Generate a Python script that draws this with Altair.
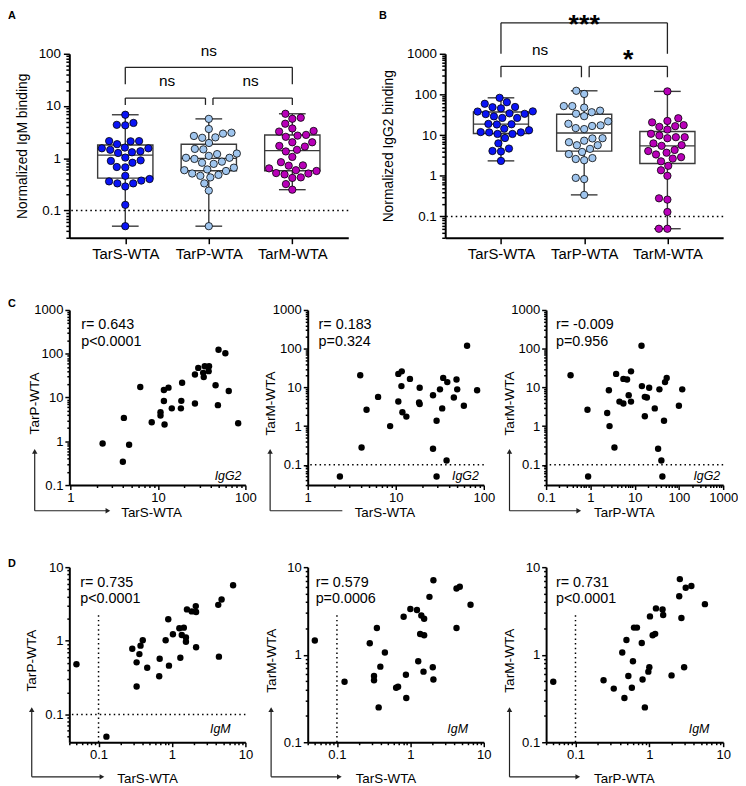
import numpy as np
import pandas as pd
import altair as alt

FONT = "Liberation Sans"

groups = ["TarS-WTA", "TarP-WTA", "TarM-WTA"]
group_colors = ["#0a14f5", "#9fc5ee", "#b800b8"]

# ---------------- IgM (panel D pairs; also panel A) ----------------
d1_tars = [0.050, 0.128, 0.288, 0.40, 0.373, 0.36, 0.33, 0.46, 0.33, 0.67, 0.68, 0.91, 0.82, 0.89, 1.03,
           1.26, 1.45, 1.36, 1.55, 1.55, 1.30, 1.60, 1.86, 2.11, 2.13, 2.13, 4.27, 4.74, 6.8, 4.36]
d1_tarp = [0.48, 0.05, 0.78, 1.02, 0.86, 0.66, 0.51, 0.43, 0.24, 0.33, 0.57, 0.46, 1.02, 1.96, 1.23,
           1.48, 1.51, 1.20, 1.11, 0.97, 0.59, 2.67, 2.51, 2.96, 2.46, 0.82, 3.08, 3.63, 5.67, 0.61]
d2_tars = [0.05, 0.127, 0.28, 0.35, 0.32, 0.32, 0.39, 0.45, 0.37, 0.64, 0.68, 0.87, 0.88, 0.81, 1.0,
           1.23, 1.41, 1.54, 1.36, 1.54, 1.28, 1.51, 2.02, 2.06, 1.82, 2.06, 4.25, 4.25, 4.71, 6.6]
d2_tarm = [1.45, 0.49, 1.35, 2.02, 0.57, 0.51, 0.73, 1.06, 0.25, 0.42, 0.43, 0.59, 0.32, 2.71, 3.33,
           3.24, 2.80, 2.57, 1.72, 1.67, 0.84, 0.64, 0.72, 0.52, 4.58, 7.1, 2.02, 5.7, 5.97, 3.72]
d3_tarp = [0.05, 0.24, 0.33, 0.46, 0.52, 0.58, 0.43, 0.49, 0.60, 0.62, 0.68, 0.79, 0.81, 0.87, 0.97,
           1.0, 1.02, 1.11, 1.20, 1.23, 1.51, 1.54, 2.0, 2.54, 2.59, 2.72, 2.96, 3.11, 3.71, 5.66]
d3_tarm = [0.49, 0.51, 0.41, 0.32, 0.57, 0.42, 1.06, 1.47, 0.84, 2.04, 2.04, 1.36, 0.52, 0.25, 0.64,
           0.72, 2.74, 1.67, 1.73, 3.38, 3.29, 2.84, 0.58, 4.66, 7.3, 2.62, 0.72, 5.83, 6.1, 3.78]

# ---------------- IgG2 (panel C pairs; also panel B) ----------------
c1_tars = [2.33, 3.97, 4.68, 4.08, 6.28, 8.49, 10.7, 10.7, 11.9, 11.7, 11.7, 13.2, 14.4, 18.3, 18.5,
           18.9, 26.5, 26.5, 28.9, 32.9, 33.4, 34.3, 38.0, 38.4, 45.6, 49.3, 48.5, 59.0, 64.5, 82.7]
c1_tarp = [0.89, 0.34, 0.83, 3.42, 17.4, 2.73, 3.86, 4.6, 2.42, 8.3, 14.9, 16.8, 5.65, 5.65, 8.4,
           21.8, 7.3, 33.6, 47.5, 36.6, 29.3, 51.8, 40.0, 51.8, 19.0, 123, 6.7, 103, 14.1, 2.59]
c2_tars = [2.32, 3.95, 4.09, 4.66, 6.3, 8.63, 10.7, 10.7, 11.7, 11.6, 11.9, 13.2, 14.5, 18.7, 18.4, 18.7,
           26.5, 26.5, 29.1, 29.1, 31.8, 33.7, 34.6, 37.8, 38.5, 45.7, 49.0, 49.9, 59.4, 64.6, 84.0]
c2_tarm = [0.05, 20.6, 0.28, 2.65, 5.68, 1.0, 4.32, 22.3, 26.0, 10.8, 2.27, 1.76, 16.6, 9.8, 4.07, 3.7,
           6.26, 0.26, 1.37, 0.05, 8.9, 2.87, 17.6, 0.129, 13.7, 5.46, 16.0, 8.9, 3.35, 119, 8.4]
c3_tarp = [0.357, 0.89, 0.86, 2.4, 2.62, 2.71, 3.5, 3.82, 4.54, 5.57, 5.57, 6.74, 7.34, 8.28, 8.28, 14.3,
           14.6, 17.0, 17.0, 18.9, 21.3, 28.5, 33.9, 36.3, 40.2, 42.4, 46.1, 48.6, 53.0, 100, 119]
c3_tarm = [20.6, 0.05, 2.65, 2.18, 8.4, 1.0, 0.28, 22.3, 4.3, 3.85, 16.6, 16.0, 6.26, 4.3, 26.0, 119,
           10.8, 1.8, 5.7, 5.46, 9.8, 2.87, 0.26, 8.9, 0.129, 0.05, 1.37, 13.7, 17.6, 3.35, 8.9]

c_stats = [["r= 0.643", "p<0.0001"], ["r= 0.183", "p=0.324"], ["r= -0.009", "p=0.956"]]
d_stats = [["r= 0.735", "p<0.0001"], ["r= 0.579", "p=0.0006"], ["r= 0.731", "p<0.0001"]]

# significance annotations (box panels): bracket levels in data units
a_brackets = {"top": (1, 3, 26.2, 55.0), "left": (1, 1.96, 10.5, 14.2), "right": (2.05, 3, 10.5, 14.2)}
a_labels = [("ns", 2, 113.5), ("ns", 1.5, 29.4), ("ns", 2.5, 29.4)]
b_brackets = {"top": (1, 3, 1000, 5763), "left": (1, 1.967, 265, 491), "right": (2.06, 3, 265, 491)}
b_labels = [("ns", 1.47, 1244)]
b_stars_top = [("***", 2, 10490)]
b_stars = [("*", 2.53, 454)]

MAJOR = "abs(log(datum.value)/LN10 - round(log(datum.value)/LN10)) < 0.001"
LOG_LABEL = "(" + MAJOR + ") ? format(datum.value, '~g') : ''"
CAT_EXPR = "[" + ",".join(["''"] + ["'%s'" % g for g in groups]) + "][datum.value]"
XDOM = [0.33, 3.67]
ONE = pd.DataFrame({"a": [0]})
LINE = "#222222"


def tick_size(major, minor):
    return {"condition": {"test": MAJOR, "value": major}, "value": minor}


def log_ticks(lo, hi):
    out = []
    for e in range(-3, 5):
        for k in range(1, 10):
            v = float("%de%d" % (k, e))
            if lo * 0.9999 <= v <= hi * 1.0001:
                out.append(v)
    return out


def swarm(vals, dec_px, diam):
    ys = np.log10(np.asarray(vals, dtype=float)) * dec_px
    order = np.argsort(ys)
    placed = []
    xs = np.zeros(len(vals))
    for i in order:
        y = ys[i]
        cands = [0.0]
        for (px, py) in placed:
            dy = abs(py - y)
            if dy < diam:
                dx = np.sqrt(diam ** 2 - dy ** 2)
                cands += [px + dx, px - dx]
        cands.sort(key=lambda c: (abs(c), c))
        for c in cands:
            if all((c - px) ** 2 + (y - py) ** 2 >= diam ** 2 - 1e-6 for px, py in placed):
                xs[i] = c
                break
        placed.append((xs[i], y))
    return xs


def letter_layer(txt, x, y):
    return alt.Chart(ONE).mark_text(text=txt, font=FONT, fontSize=11, fontWeight="bold",
                                    align="left", baseline="top", color="black").encode(
        x=alt.value(x), y=alt.value(y))


def extent_layer(top, bottom):
    # invisible vertical guide fixing the vertical extent of a row for layout
    return alt.Chart(ONE).mark_rule(opacity=0, strokeWidth=1).encode(
        x=alt.value(0), y=alt.value(top), y2=alt.value(bottom))


def box_panel(vals_list, ydom, w, h, ytitle, ytitle_x, brackets, ns_labels, stars, stars_top,
              letter, letter_x, letter_y, extent=None):
    dec_px = h / (np.log10(ydom[1]) - np.log10(ydom[0]))
    step = w / (XDOM[1] - XDOM[0])
    rows = []
    for gi, (g, vals) in enumerate(zip(groups, vals_list), start=1):
        off = swarm(vals, dec_px, 8.6) / step
        for v, o in zip(vals, off):
            rows.append({"grp": g, "idx": gi, "value": v, "xs": gi + o})
    df = pd.DataFrame(rows)
    xs = alt.Scale(type="linear", domain=XDOM, nice=False, zero=False)
    ys = alt.Scale(type="log", domain=ydom, nice=False)
    xaxis = alt.Axis(values=[1, 2, 3], labelExpr=CAT_EXPR, title=None, tickSize=6, labelFontSize=15,
                     labelPadding=3, labelFlush=False, labelOverlap=False)
    yaxis = alt.Axis(values=log_ticks(*ydom), labelExpr=LOG_LABEL, tickSize=tick_size(6, 3.5),
                     labelOverlap=False, labelFlush=False, labelFontSize=13.5, labelPadding=3,
                     title=ytitle, titleFontSize=14, titleX=ytitle_x, titleY=h / 2, titleAngle=270,
                     titleAlign="center", titleBaseline="middle")

    def X(f):
        return alt.X(f, type="quantitative", scale=xs, axis=xaxis)

    def Y(f):
        return alt.Y(f, type="quantitative", scale=ys, axis=yaxis)

    base = alt.Chart(df)
    agg = base.transform_aggregate(
        q1="q1(value)", q3="q3(value)", med="median(value)", lo="min(value)", hi="max(value)",
        groupby=["idx"]).transform_calculate(
        xl="datum.idx - 0.331", xr="datum.idx + 0.331", cl="datum.idx - 0.16", cr="datum.idx + 0.16")
    BC = "#3a3a3a"
    sw = 1.4
    layers = [
        agg.mark_rect(fill="transparent", stroke=BC, strokeWidth=sw).encode(
            x=X("xl"), x2=alt.X2("xr"), y=Y("q1"), y2=alt.Y2("q3")),
        agg.mark_rule(color=BC, strokeWidth=sw).encode(x=X("xl"), x2=alt.X2("xr"), y=Y("med")),
        agg.mark_rule(color=BC, strokeWidth=sw).encode(x=X("idx"), y=Y("lo"), y2=alt.Y2("q1")),
        agg.mark_rule(color=BC, strokeWidth=sw).encode(x=X("idx"), y=Y("q3"), y2=alt.Y2("hi")),
        agg.mark_rule(color=BC, strokeWidth=sw).encode(x=X("cl"), x2=alt.X2("cr"), y=Y("lo")),
        agg.mark_rule(color=BC, strokeWidth=sw).encode(x=X("cl"), x2=alt.X2("cr"), y=Y("hi")),
        alt.Chart(pd.DataFrame({"v": [0.1]})).mark_rule(color="black", strokeWidth=1.6,
                                                         strokeDash=[1.6, 3.2]).encode(y=Y("v")),
        base.mark_point(filled=True, shape="circle", size=55, stroke="black", strokeWidth=0.8,
                        opacity=1).encode(
            x=X("xs"), y=Y("value"),
            fill=alt.Fill("grp:N", scale=alt.Scale(domain=groups, range=group_colors), legend=None)),
    ]
    segs = []
    for (xa, xb, ylo, yhi) in brackets.values():
        segs += [(xa, xa, ylo, yhi), (xa, xb, yhi, yhi), (xb, xb, ylo, yhi)]
    sdf = pd.DataFrame(segs, columns=["x", "x2", "y", "y2"])
    layers.append(alt.Chart(sdf).mark_rule(color=LINE, strokeWidth=1.3).encode(
        x=X("x"), x2=alt.X2("x2"), y=Y("y"), y2=alt.Y2("y2")))
    ndf = pd.DataFrame(ns_labels, columns=["t", "x", "y"])
    layers.append(alt.Chart(ndf).mark_text(font=FONT, fontSize=15.5, baseline="middle", color="black").encode(
        x=X("x"), y=Y("y"), text="t:N"))
    if stars:
        tdf = pd.DataFrame(stars, columns=["t", "x", "y"])
        layers.append(alt.Chart(tdf).mark_text(font=FONT, fontSize=27, fontWeight="bold",
                                               baseline="alphabetic", color="black").encode(
            x=X("x"), y=Y("y"), text="t:N"))
    if stars_top:
        tdf = pd.DataFrame(stars_top, columns=["t", "x", "y"])
        layers.append(alt.Chart(tdf).mark_text(font=FONT, fontSize=27, fontWeight="bold",
                                               baseline="top", color="black").encode(
            x=X("x"), y=Y("y"), text="t:N"))
    layers.append(letter_layer(letter, letter_x, letter_y))
    if extent:
        layers.append(extent_layer(*extent))
    return alt.layer(*layers).properties(width=w, height=h)


def scatter_panel(xv, yv, xdom, ydom, w, h, xtitle, ytitle, stats, iso, ax, corner, tip_y, htip,
                  head, text_x, stat_x, iso_dx, iso_dy, hline=False, vline=None, letter=None, letter_y=0,
                  extent=None):
    df = pd.DataFrame({"x": xv, "y": yv})
    xs = alt.Scale(type="log", domain=xdom, nice=False)
    ys = alt.Scale(type="log", domain=ydom, nice=False)
    xaxis = alt.Axis(values=log_ticks(*xdom), labelExpr=LOG_LABEL, tickSize=tick_size(4.5, 2.5),
                     labelOverlap=False, labelFlush=False, labelFontSize=13.2, labelPadding=2,
                     title=xtitle, titleFontSize=13.5, titleX=text_x, titleY=corner + 2,
                     titleAlign="left", titleBaseline="middle")
    yaxis = alt.Axis(values=log_ticks(*ydom), labelExpr=LOG_LABEL, tickSize=tick_size(4.5, 2.5),
                     labelOverlap=False, labelFlush=False, labelFontSize=13.2, labelPadding=2,
                     title=ytitle, titleFontSize=13.8, titleX=ax, titleY=94, titleAngle=270,
                     titleAlign="center", titleBaseline="middle")

    def X(f):
        return alt.X(f, type="quantitative", scale=xs, axis=xaxis)

    def Y(f):
        return alt.Y(f, type="quantitative", scale=ys, axis=yaxis)

    layers = []
    dot = dict(color="black", strokeWidth=1.5, strokeDash=[1.5, 3.2])
    if hline:
        layers.append(alt.Chart(pd.DataFrame({"v": [0.1]})).mark_rule(**dot).encode(y=Y("v")))
    if vline is not None:
        layers.append(alt.Chart(pd.DataFrame({"x": [0.1], "y": [ydom[0]], "y2": [vline]})).mark_rule(**dot).encode(
            x=X("x"), y=Y("y"), y2=alt.Y2("y2")))
    layers.append(alt.Chart(df).mark_circle(size=42, color="black", opacity=1).encode(
        x=X("x"), y=Y("y")))
    layers.append(alt.Chart(ONE).mark_text(text=stats, font=FONT, fontSize=14.5, lineHeight=17,
                                           align="left", baseline="top", color="black").encode(
        x=alt.value(stat_x), y=alt.value(8.7)))
    layers.append(alt.Chart(ONE).mark_text(text=iso, font=FONT, fontSize=12.5, fontStyle="italic",
                                           align="right", baseline="middle", color="black").encode(
        x=alt.value(w - iso_dx), y=alt.value(h - iso_dy)))
    cy = h + corner
    arrow = dict(color=LINE, strokeWidth=1.2)
    layers.append(alt.Chart(ONE).mark_rule(**arrow).encode(
        x=alt.value(ax), y=alt.value(cy), y2=alt.value(tip_y + 4)))
    layers.append(alt.Chart(ONE).mark_rule(**arrow).encode(
        x=alt.value(ax), x2=alt.value(htip - (4 if head else 0)), y=alt.value(cy)))
    layers.append(alt.Chart(ONE).mark_point(shape="triangle-up", filled=True, size=30, color=LINE,
                                            opacity=1).encode(x=alt.value(ax), y=alt.value(tip_y + 3)))
    if head:
        layers.append(alt.Chart(ONE).mark_point(shape="triangle-right", filled=True, size=30, color=LINE,
                                                opacity=1).encode(x=alt.value(htip - 3), y=alt.value(cy)))
    if letter:
        layers.append(letter_layer(letter, -62, letter_y))
    if extent:
        layers.append(extent_layer(*extent))
    return alt.layer(*layers).properties(width=w, height=h)


AH = 186
panel_a = box_panel([d1_tars, d1_tarp, d2_tarm], [0.03, 100], 282, AH, "Normalized IgM binding", -47,
                    a_brackets, a_labels, None, None, "A", -62, -44.3, extent=(-44.3, AH + 30))
panel_b = box_panel([c1_tars, c1_tarp, c2_tarm], [0.03, 1000], 281, AH, "Normalized IgG2 binding", -57,
                    b_brackets, b_labels, b_stars, b_stars_top, "B", -67, -44.3)

CH = 177
c1 = scatter_panel(c1_tars, c1_tarp, [0.97, 100], [0.1, 1000], 178, CH, "TarS-WTA", "TarP-WTA", c_stats[0],
                   "IgG2", ax=-35, corner=26, tip_y=140, htip=42, head=True, text_x=52, stat_x=12,
                   iso_dx=4, iso_dy=9, letter="C", letter_y=-12, extent=(-15, CH + 40))
c2 = scatter_panel(c2_tars, c2_tarm, [1, 100], [0.03, 1000], 178, CH, "TarS-WTA", "TarM-WTA", c_stats[1],
                   "IgG2", ax=-38, corner=26, tip_y=140, htip=35, head=False, text_x=47, stat_x=11,
                   iso_dx=5, iso_dy=9, hline=True)
c3 = scatter_panel(c3_tarp, c3_tarm, [0.1, 1000], [0.03, 1000], 179, CH, "TarP-WTA", "TarM-WTA", c_stats[2],
                   "IgG2", ax=-37, corner=26, tip_y=140, htip=36, head=True, text_x=48, stat_x=10,
                   iso_dx=3, iso_dy=9, hline=True)

d1 = scatter_panel(d1_tars, d1_tarp, [0.04, 10], [0.042, 10], 178, CH, "TarS-WTA", "TarP-WTA", d_stats[0],
                   "IgM", ax=-38, corner=35, tip_y=141, htip=36, head=True, text_x=48, stat_x=11,
                   iso_dx=15, iso_dy=13, hline=True, vline=2.3, letter="D", letter_y=-9, extent=(-15, CH + 40))
d2 = scatter_panel(d2_tars, d2_tarm, [0.04, 10], [0.1, 10], 178, CH, "TarS-WTA", "TarM-WTA", d_stats[1],
                   "IgM", ax=-37, corner=35, tip_y=141, htip=35, head=True, text_x=48, stat_x=8,
                   iso_dx=16, iso_dy=13, vline=2.9)
d3 = scatter_panel(d3_tarp, d3_tarm, [0.04, 10], [0.1, 10], 179, CH, "TarP-WTA", "TarM-WTA", d_stats[2],
                   "IgM", ax=-37, corner=35, tip_y=141, htip=35, head=True, text_x=48, stat_x=10,
                   iso_dx=14, iso_dy=13, vline=2.95)

row1 = alt.hconcat(panel_a, panel_b, spacing=98, bounds="flush")
row2 = alt.hconcat(c1, c2, c3, spacing=63, bounds="flush")
row3 = alt.hconcat(d1, d2, d3, spacing=63, bounds="flush")

chart = alt.vconcat(row1, row2, row3, spacing=28).properties(
    padding={"top": -3, "left": 0, "right": 0, "bottom": 0}).configure(
    font=FONT).configure_view(strokeWidth=0).configure_axis(
    domainColor="black", domainWidth=2, tickColor="black", tickWidth=1.5, labelColor="black",
    titleColor="black", grid=False, labelFont=FONT, titleFont=FONT, titleFontWeight="normal")

chart.save("out.html", embed_options={"renderer": "svg", "actions": False})
